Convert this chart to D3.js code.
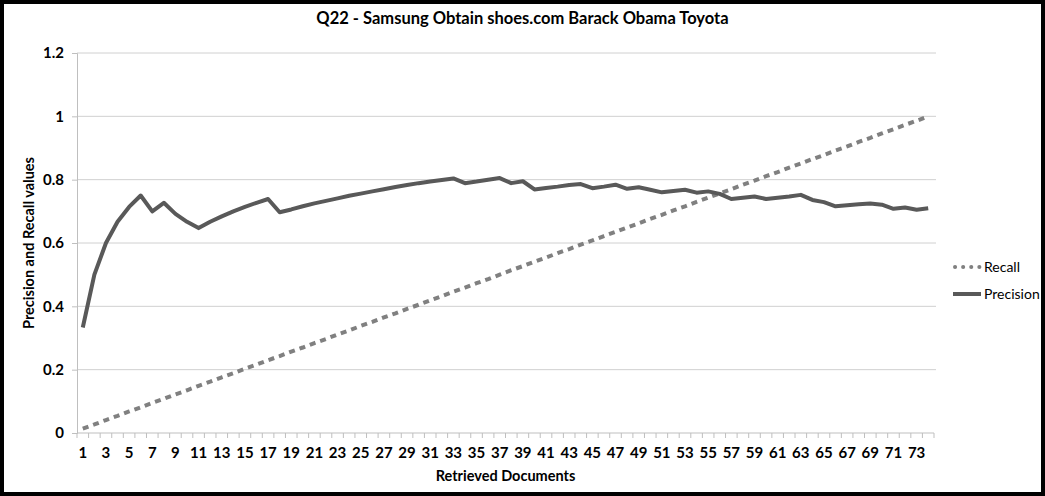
<!DOCTYPE html>
<meta charset="utf-8">
<head>
  <title>Q22 precision and recall</title>
</head>
<style>
  body { margin: 0; background: #fff; }
  text { font-family: Lato, "Open Sans", sans-serif; fill: #000; }
</style>
<script src="https://d3js.org/d3.v7.min.js"></script>
<div id="my_dataviz"></div>
<script>
  // values, one per retrieved document (1..74)
  var docs = d3.range(1, 75);
  var precision = [0.333, 0.5, 0.6, 0.667, 0.714, 0.75, 0.7, 0.727, 0.692, 0.667,
    0.647, 0.667, 0.684, 0.7, 0.714, 0.727, 0.739, 0.697, 0.706, 0.716,
    0.725, 0.733, 0.741, 0.749, 0.756, 0.763, 0.77, 0.777, 0.783, 0.789,
    0.794, 0.799, 0.804, 0.789, 0.794, 0.8, 0.805, 0.789, 0.795, 0.769,
    0.774, 0.778, 0.783, 0.786, 0.773, 0.778, 0.784, 0.771, 0.776, 0.768,
    0.76, 0.764, 0.768, 0.759, 0.763, 0.755, 0.739, 0.743, 0.747, 0.739,
    0.743, 0.747, 0.752, 0.736, 0.729, 0.716, 0.719, 0.722, 0.725, 0.721,
    0.708, 0.712, 0.705, 0.71];
  var recall = [0.014, 0.027, 0.041, 0.054, 0.068, 0.081, 0.095, 0.108, 0.122, 0.135,
    0.149, 0.162, 0.176, 0.189, 0.203, 0.216, 0.230, 0.243, 0.257, 0.270,
    0.284, 0.297, 0.311, 0.324, 0.338, 0.351, 0.365, 0.378, 0.392, 0.405,
    0.419, 0.432, 0.446, 0.459, 0.473, 0.486, 0.500, 0.514, 0.527, 0.541,
    0.554, 0.568, 0.581, 0.595, 0.608, 0.622, 0.635, 0.649, 0.662, 0.676,
    0.689, 0.703, 0.716, 0.730, 0.743, 0.757, 0.770, 0.784, 0.797, 0.811,
    0.824, 0.838, 0.851, 0.865, 0.878, 0.892, 0.905, 0.919, 0.932, 0.946,
    0.959, 0.973, 0.986, 1.000];
  var yTicks = [0, 0.2, 0.4, 0.6, 0.8, 1, 1.2];
  var title = "Q22 - Samsung Obtain shoes.com Barack Obama Toyota";

  var W = 1045, H = 496;
  var margin = { top: 53, right: 111, bottom: 63, left: 77 },
    width = W - margin.left - margin.right,
    height = H - margin.top - margin.bottom;

  var root = d3.select("#my_dataviz")
    .append("svg")
    .attr("width", W)
    .attr("height", H);

  // outer frame
  root.append("rect")
    .attr("x", 2).attr("y", 2)
    .attr("width", W - 4).attr("height", H - 4)
    .attr("fill", "none")
    .attr("stroke", "#000")
    .attr("stroke-width", 4);

  var svg = root.append("g")
    .attr("transform", "translate(" + margin.left + "," + margin.top + ")");

  var x = d3.scaleBand()
    .domain(docs)
    .range([0, width]);
  var y = d3.scaleLinear()
    .domain([0, 1.2])
    .range([height, 0]);

  // gridlines
  svg.append("g")
    .selectAll("line")
    .data(yTicks.slice(1))
    .enter()
    .append("line")
    .attr("x1", 0).attr("x2", width + 2)
    .attr("y1", function(d) { return y(d); })
    .attr("y2", function(d) { return y(d); })
    .attr("stroke", "#d0d0d0")
    .attr("stroke-width", 1);

  // Y axis
  var yAxis = svg.append("g")
    .call(d3.axisLeft(y).tickValues(yTicks).tickSize(5).tickPadding(8)
      .tickFormat(function(d) { return d3.format("")(+d.toFixed(1)); }));
  yAxis.select(".domain").attr("stroke", "#bfbfbf");
  yAxis.selectAll(".tick line").attr("stroke", "#bfbfbf");
  yAxis.selectAll("text")
    .style("font-size", "15px")
    .style("font-weight", "bold")
    .attr("fill", "#000");

  // X axis: ticks on category boundaries, labels on odd documents
  var xg = svg.append("g")
    .attr("transform", "translate(0," + height + ")");
  xg.append("line")
    .attr("x1", 0).attr("x2", width)
    .attr("stroke", "#bfbfbf");
  xg.selectAll(".bnd")
    .data(docs.concat([75]))
    .enter()
    .append("line")
    .attr("class", "bnd")
    .attr("x1", function(d) { return d <= 74 ? x(d) : width; })
    .attr("x2", function(d) { return d <= 74 ? x(d) : width; })
    .attr("y1", 0).attr("y2", 5)
    .attr("stroke", "#bfbfbf");
  xg.selectAll(".lbl")
    .data(docs.filter(function(d) { return d % 2 === 1; }))
    .enter()
    .append("text")
    .attr("class", "lbl")
    .attr("x", function(d) { return x(d) + x.bandwidth() / 2; })
    .attr("y", 25)
    .attr("text-anchor", "middle")
    .style("font-size", "15px")
    .style("font-weight", "bold")
    .text(function(d) { return d; });

  // axis titles
  svg.append("text")
    .attr("x", width / 2)
    .attr("y", height + 48)
    .attr("text-anchor", "middle")
    .style("font-size", "14.5px")
    .style("font-weight", "bold")
    .text("Retrieved Documents");
  svg.append("text")
    .attr("transform", "rotate(-90)")
    .attr("x", -height / 2)
    .attr("y", -43)
    .attr("text-anchor", "middle")
    .style("font-size", "14.5px")
    .style("font-weight", "bold")
    .text("Precision and Recall values");

  // chart title, centred on the whole chart
  root.append("text")
    .attr("x", W / 2)
    .attr("y", 24)
    .attr("text-anchor", "middle")
    .style("font-size", "16.5px")
    .style("font-weight", "bold")
    .text(title);

  var cx = function(d, i) { return x(docs[i]) + x.bandwidth() / 2; };

  // recall (dotted)
  svg.append("path")
    .datum(recall)
    .attr("fill", "none")
    .attr("stroke", "#808080")
    .attr("stroke-width", 4)
    .attr("stroke-dasharray", "6,5")
    .attr("d", d3.line().x(cx).y(function(d) { return y(d); }));

  // precision (solid)
  svg.append("path")
    .datum(precision)
    .attr("fill", "none")
    .attr("stroke", "#595959")
    .attr("stroke-width", 4)
    .attr("stroke-linejoin", "round")
    .attr("d", d3.line().x(cx).y(function(d) { return y(d); }));

  // legend
  var legend = root.append("g")
    .attr("transform", "translate(953,267)");
  legend.append("line")
    .attr("x1", 2).attr("x2", 28)
    .attr("stroke", "#808080")
    .attr("stroke-width", 4)
    .attr("stroke-linecap", "round")
    .attr("stroke-dasharray", "0.1,8");
  legend.append("text")
    .attr("x", 31).attr("y", 5)
    .style("font-size", "14px")
    .text("Recall");
  legend.append("line")
    .attr("x1", 0).attr("x2", 28)
    .attr("y1", 27).attr("y2", 27)
    .attr("stroke", "#595959")
    .attr("stroke-width", 4);
  legend.append("text")
    .attr("x", 31).attr("y", 32)
    .style("font-size", "14px")
    .text("Precision");
</script>
